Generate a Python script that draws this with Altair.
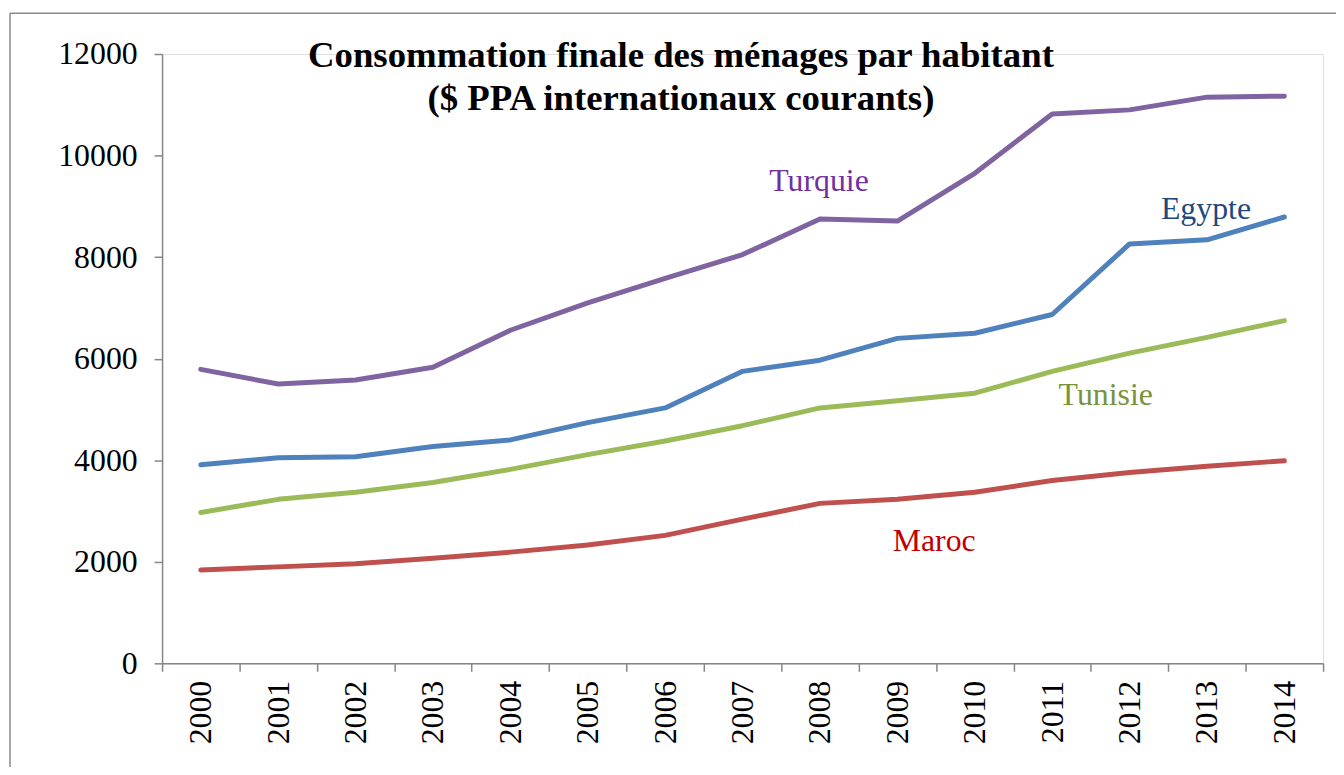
import altair as alt
import pandas as pd

years = [str(y) for y in range(2000, 2015)]
turquie = [5790, 5500, 5580, 5830, 6560, 7100, 7580, 8050, 8750, 8710, 9650, 10820, 10900, 11150, 11170]
egypte = [3910, 4050, 4070, 4270, 4400, 4740, 5030, 5750, 5970, 6400, 6500, 6870, 8260, 8340, 8790]
tunisie = [2970, 3230, 3370, 3560, 3820, 4110, 4380, 4680, 5030, 5170, 5320, 5750, 6110, 6420, 6750]
maroc = [1840, 1900, 1960, 2070, 2190, 2330, 2520, 2840, 3150, 3230, 3370, 3600, 3760, 3880, 3990]

series = ["Turquie", "Egypte", "Tunisie", "Maroc"]
line_colors = ["#8064A2", "#4F81BD", "#9BBB59", "#C0504D"]
label_colors = ["#7030A0", "#1F497D", "#77933C", "#C00000"]

# label anchor (year, value)
label_years = ["2008", "2013", "2012", "2009"]
label_values = [9500, 8950, 5290, 2410]
label_dx = [-1, -1, -24, 37]

rows = []
for name, vals in zip(series, [turquie, egypte, tunisie, maroc]):
    for yr, v in zip(years, vals):
        rows.append({"Année": yr, "Valeur": v, "Pays": name})
df = pd.DataFrame(rows)

FONT = "Liberation Serif"

x_enc = alt.X("Année:N", sort=years, title=None,
              scale=alt.Scale(paddingInner=0, paddingOuter=0),
              axis=alt.Axis(labelAngle=-90, labelFontSize=32, labelFont=FONT,
                            labelColor="black", labelPadding=9, labelAlign="right",
                            labelBaseline="middle",
                            tickBand="extent", tickSize=8, tickColor="#868686",
                            tickWidth=1.5, domainColor="#868686", domainWidth=1.5,
                            grid=False))
y_enc = alt.Y("Valeur:Q", title=None,
              scale=alt.Scale(domain=[0, 12000], nice=False),
              axis=alt.Axis(values=[0, 2000, 4000, 6000, 8000, 10000, 12000],
                            labelFontSize=32, labelFont=FONT, labelColor="black",
                            labelPadding=17, tickSize=8, tickColor="#868686",
                            tickWidth=1.5, domainColor="#868686", domainWidth=1.5,
                            grid=False, format="d"))

lines = alt.Chart(df).mark_line(strokeWidth=5, strokeCap="round", strokeJoin="round").encode(
    x=x_enc,
    y=y_enc,
    color=alt.Color("Pays:N", scale=alt.Scale(domain=series, range=line_colors), legend=None),
)

layers = [lines]
for name, yr, val, dx, col in zip(series, label_years, label_values, label_dx, label_colors):
    ldf = pd.DataFrame({"Année": [yr], "Valeur": [val], "Pays": [name]})
    layers.append(
        alt.Chart(ldf).mark_text(font=FONT, fontSize=32, color=col, dx=dx, baseline="middle").encode(
            x=alt.X("Année:N", sort=years),
            y=alt.Y("Valeur:Q"),
            text="Pays:N",
        )
    )

# outer frame (top and left edges)
frame_top = alt.Chart(pd.DataFrame({"a": [0]})).mark_rule(color="#888888", strokeWidth=1.5).encode(
    x=alt.value(-153), x2=alt.value(1200), y=alt.value(-41))
frame_left = alt.Chart(pd.DataFrame({"a": [0]})).mark_rule(color="#888888", strokeWidth=1.5).encode(
    x=alt.value(-153), y=alt.value(-41), y2=alt.value(720))
layers += [frame_top, frame_left]

chart = alt.layer(*layers).properties(
    width=1168,
    height=613,
    autosize=alt.AutoSizeParams(type="none"),
    padding={"left": 155, "top": 44, "right": 13, "bottom": 102},
    title=alt.TitleParams(
        text=["Consommation finale des ménages par habitant", "($ PPA internationaux courants)"],
        font=FONT, fontSize=37, fontWeight="bold", color="black",
        anchor="middle", frame="group", dx=-62, dy=110, lineHeight=43,
    ),
).configure_view(stroke=None).configure(background="white")

chart.save("out.html", embed_options={"renderer": "svg", "actions": False})
